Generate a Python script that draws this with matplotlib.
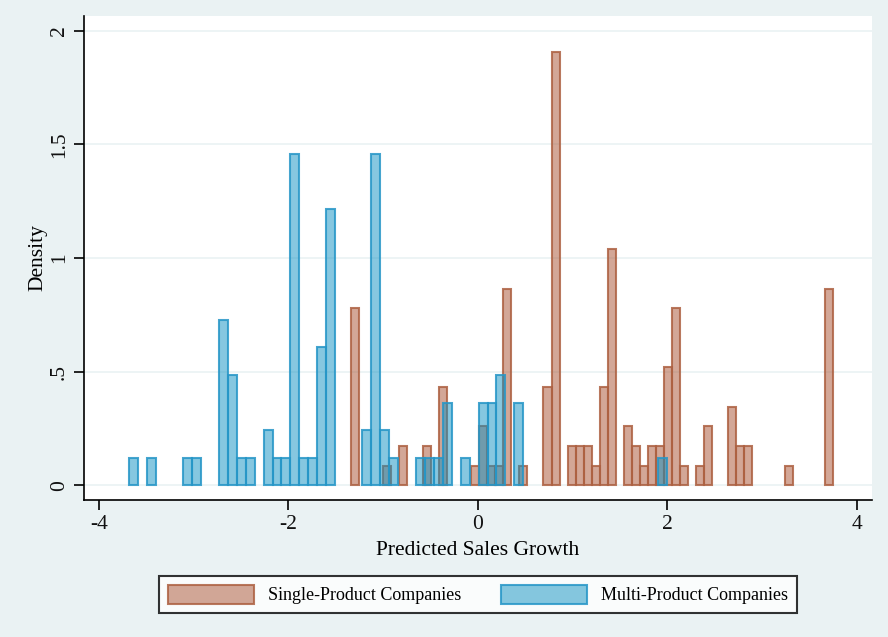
import numpy as np
import matplotlib
matplotlib.use("Agg")
import matplotlib.pyplot as plt

# ---- data ----
# Single-Product Companies: 60 bins
single_bin_start = -1.344
single_bin_width = 0.0849
single_bins = [0, 4, 6, 9, 11, 15, 16, 17, 18, 19, 21, 24, 25, 27, 28, 29, 30, 31,
               32, 34, 35, 36, 37, 38, 39, 40, 41, 43, 44, 47, 48, 49, 54, 59]
single_density = [0.779, 0.087, 0.173, 0.173, 0.433, 0.087, 0.260, 0.087, 0.087,
                  0.866, 0.087, 0.433, 1.905, 0.173, 0.173, 0.173, 0.087, 0.433,
                  1.039, 0.260, 0.173, 0.087, 0.173, 0.173, 0.520, 0.779, 0.087,
                  0.087, 0.260, 0.346, 0.173, 0.173, 0.087, 0.866]

# Multi-Product Companies: 60 bins
multi_bin_start = -3.683
multi_bin_width = 0.09463
multi_bins = [0, 2, 6, 7, 10, 11, 12, 13, 15, 16, 17, 18, 19, 20, 21, 22, 26, 27,
              28, 29, 32, 33, 34, 35, 37, 39, 40, 41, 43, 59]
multi_density = [0.121, 0.121, 0.121, 0.121, 0.729, 0.486, 0.121, 0.121, 0.243,
                 0.121, 0.121, 1.458, 0.121, 0.121, 0.607, 1.215, 0.243, 1.458,
                 0.243, 0.121, 0.121, 0.121, 0.121, 0.364, 0.121, 0.364, 0.364,
                 0.486, 0.364, 0.121]

xticks = [-4, -2, 0, 2, 4]
yticks = [0, 0.5, 1, 1.5, 2]
ytick_labels = ["0", ".5", "1", "1.5", "2"]
series_labels = ["Single-Product Companies", "Multi-Product Companies"]
xlabel = "Predicted Sales Growth"
ylabel = "Density"

# ---- style ----
plt.rcParams['font.family'] = ['Liberation Serif', 'DejaVu Serif']
bg = '#EAF2F3'
brown_face = (0.663, 0.318, 0.192, 0.5)
brown_edge = (0.68, 0.38, 0.26, 0.85)
blue_face = (0.06, 0.57, 0.76, 0.5)
blue_edge = (0.15, 0.59, 0.78, 0.85)

fig = plt.figure(figsize=(8.88, 6.37), dpi=100, facecolor=bg)
ax = fig.add_axes([0.0946, 0.2151, 0.8870, 0.7598])
ax.set_facecolor('white')

ax.set_xlim(-4.16, 4.16)
ax.set_ylim(-0.064, 2.065)

for y in yticks:
    ax.axhline(y, color=bg, lw=1.2, zorder=0)

s_left = single_bin_start + np.array(single_bins) * single_bin_width
m_left = multi_bin_start + np.array(multi_bins) * multi_bin_width

ax.bar(s_left, single_density, width=single_bin_width, align='edge',
       facecolor=brown_face, edgecolor=brown_edge, linewidth=1.5, zorder=2,
       label=series_labels[0])
ax.bar(m_left, multi_density, width=multi_bin_width, align='edge',
       facecolor=blue_face, edgecolor=blue_edge, linewidth=1.5, zorder=3,
       label=series_labels[1])

ax.spines['top'].set_visible(False)
ax.spines['right'].set_visible(False)
for sp in ('left', 'bottom'):
    ax.spines[sp].set_linewidth(1.2)
    ax.spines[sp].set_color('black')

ax.set_xticks(xticks)
ax.set_xticklabels([str(t) for t in xticks], fontsize=15.5)
ax.set_yticks(yticks)
ax.set_yticklabels(ytick_labels, fontsize=15.5, rotation=90, va='center')
ax.tick_params(axis='both', direction='out', length=7, width=1.2, color='black',
               labelcolor='#111111')
ax.tick_params(axis='x', pad=4)
ax.tick_params(axis='y', pad=4)

ax.set_xlabel(xlabel, fontsize=15.5, labelpad=5)
ax.set_ylabel(ylabel, fontsize=15.5, labelpad=2)

leg = fig.legend(loc='center', bbox_to_anchor=(0.538, 0.0667), ncol=2,
                 fontsize=13.0, frameon=True, fancybox=False,
                 handlelength=4.8, handleheight=1.3, handletextpad=0.75,
                 columnspacing=2.2, borderpad=0.5, edgecolor='black')
leg.get_frame().set_linewidth(1.5)
leg.get_frame().set_facecolor('white')

fig.savefig('out.png', dpi=100, facecolor=bg)
